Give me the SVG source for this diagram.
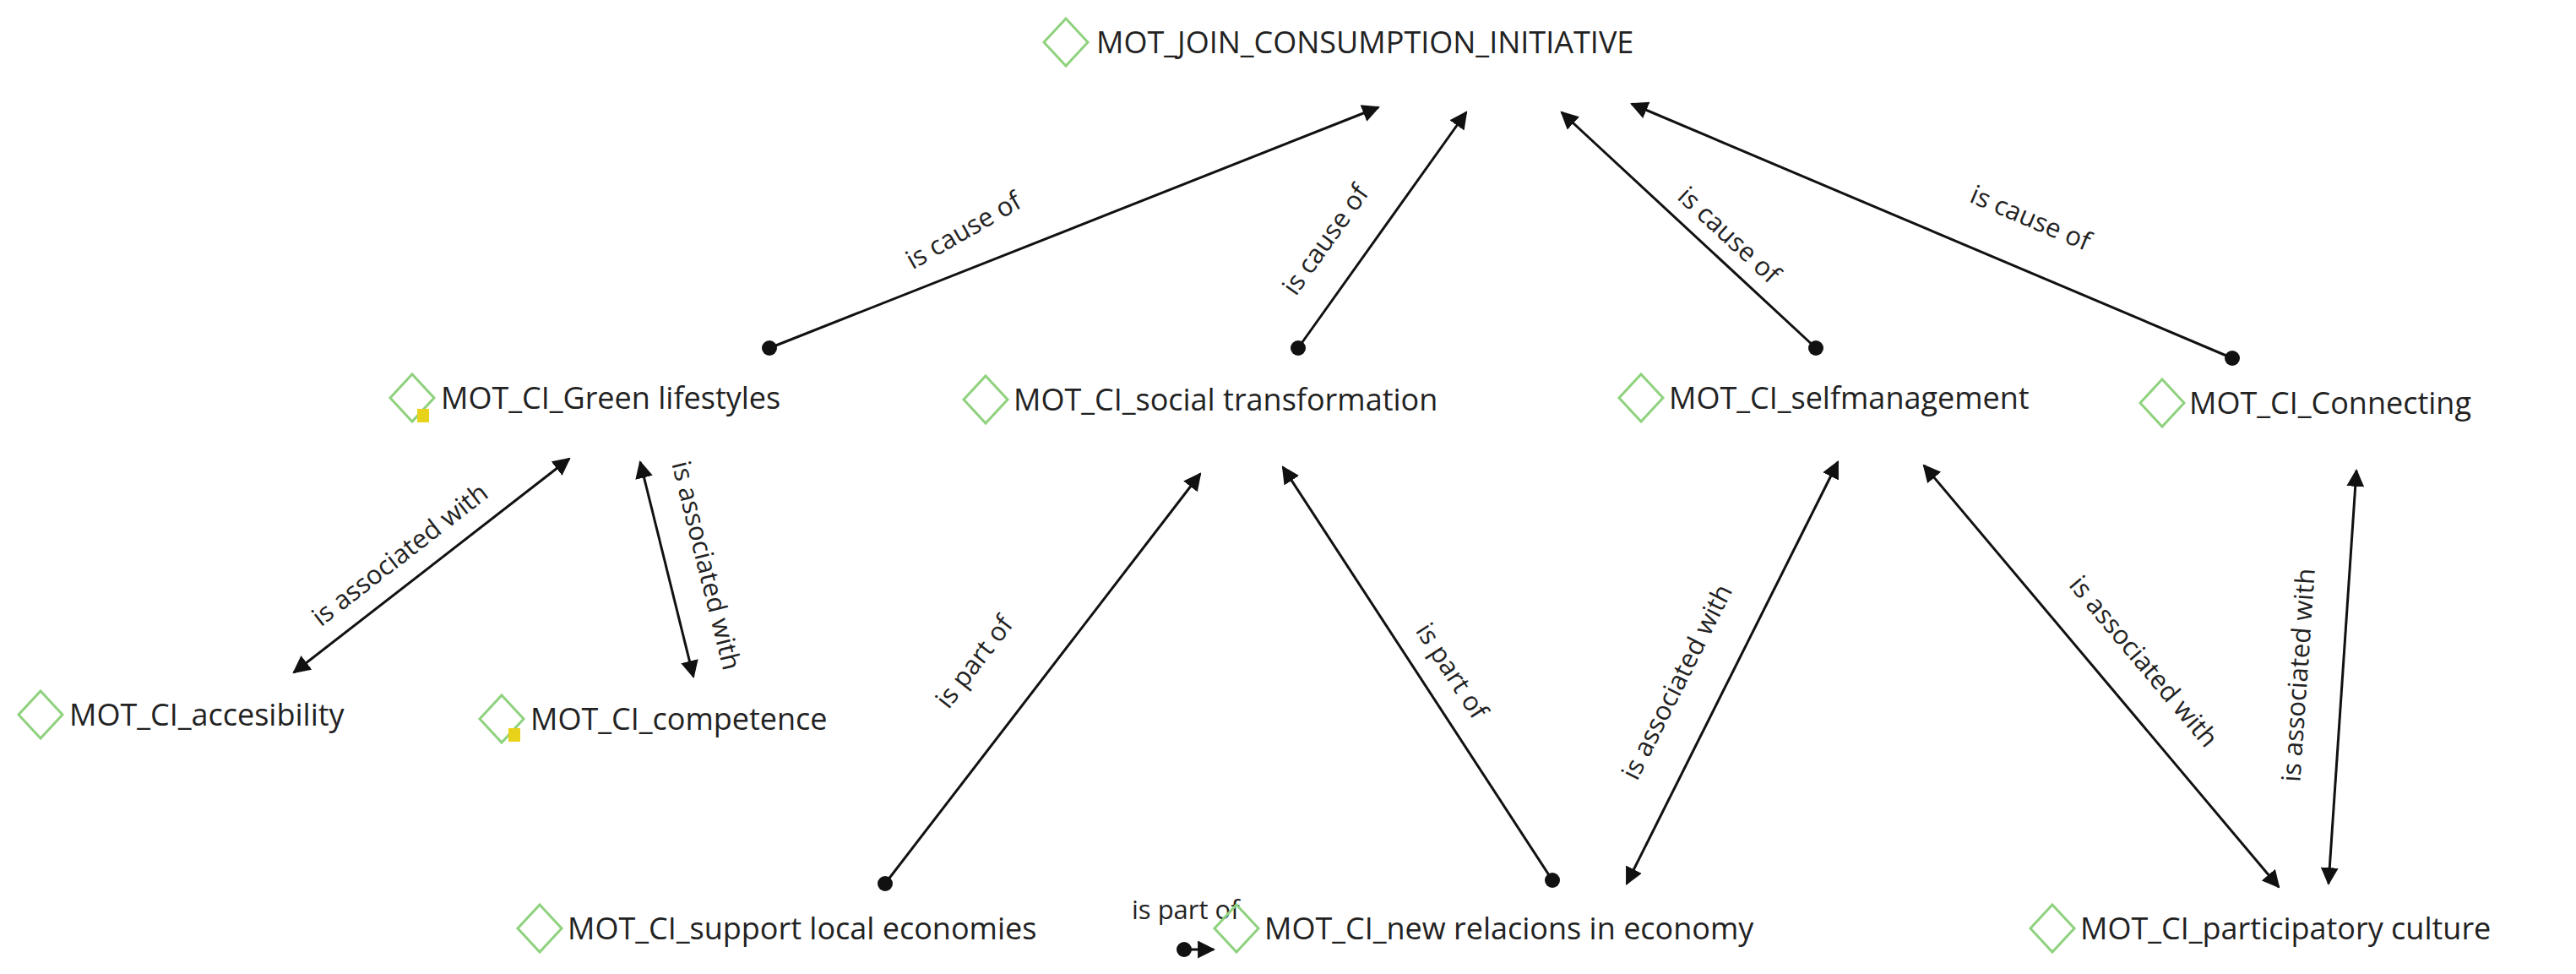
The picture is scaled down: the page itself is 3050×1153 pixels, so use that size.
<svg xmlns="http://www.w3.org/2000/svg" width="3050" height="1153" viewBox="0 0 3050 1153">
<style>
.n{font-family:"Open Sans","Noto Sans",sans-serif;font-size:36px;fill:#222}
.l{font-family:"Open Sans","Noto Sans",sans-serif;font-size:31px;fill:#222}
.d{fill:none;stroke:#8fd27e;stroke-width:3}
.e{stroke:#111;stroke-width:3;fill:none}
.ic{fill:#e8d21a}
</style>
<defs>
<marker id="a" viewBox="0 0 10 10" refX="9" refY="5" markerWidth="7" markerHeight="7" orient="auto-start-reverse" markerUnits="strokeWidth"><path d="M0,0 L10,5 L0,10 z" fill="#111"/></marker>
<marker id="o" viewBox="0 0 10 10" refX="5" refY="5" markerWidth="6" markerHeight="6" markerUnits="strokeWidth"><circle cx="5" cy="5" r="5" fill="#111"/></marker>
</defs>
<rect width="3050" height="1153" fill="#fff"/>
<g id="edges">
<line class="e" x1="911" y1="412" x2="1632" y2="127" marker-start="url(#o)" marker-end="url(#a)"/>
<line class="e" x1="1537" y1="412" x2="1736" y2="133" marker-start="url(#o)" marker-end="url(#a)"/>
<line class="e" x1="2150" y1="412" x2="1849" y2="133" marker-start="url(#o)" marker-end="url(#a)"/>
<line class="e" x1="2643" y1="424" x2="1932" y2="123" marker-start="url(#o)" marker-end="url(#a)"/>
<line class="e" x1="348" y1="796" x2="674" y2="543" marker-start="url(#a)" marker-end="url(#a)"/>
<line class="e" x1="821" y1="801" x2="758" y2="547" marker-start="url(#a)" marker-end="url(#a)"/>
<line class="e" x1="1048" y1="1046" x2="1421" y2="561" marker-start="url(#o)" marker-end="url(#a)"/>
<line class="e" x1="1838" y1="1042" x2="1519" y2="553" marker-start="url(#o)" marker-end="url(#a)"/>
<line class="e" x1="1926" y1="1046" x2="2176" y2="547" marker-start="url(#a)" marker-end="url(#a)"/>
<line class="e" x1="2278" y1="551" x2="2698" y2="1050" marker-start="url(#a)" marker-end="url(#a)"/>
<line class="e" x1="2757" y1="1046" x2="2790" y2="557" marker-start="url(#a)" marker-end="url(#a)"/>
<line class="e" x1="1402" y1="1124" x2="1437" y2="1124" marker-start="url(#o)" marker-end="url(#a)"/>
<text class="l" text-anchor="middle" transform="translate(1146,282) rotate(-29.8)">is cause of</text>
<text class="l" text-anchor="middle" transform="translate(1578,290) rotate(-54.5)">is cause of</text>
<text class="l" text-anchor="middle" transform="translate(2040,286) rotate(42.8)">is cause of</text>
<text class="l" text-anchor="middle" transform="translate(2400,268) rotate(22.9)">is cause of</text>
<text class="l" text-anchor="middle" transform="translate(480,665) rotate(-37.8)">is associated with</text>
<text class="l" text-anchor="middle" transform="translate(826,672) rotate(76)">is associated with</text>
<text class="l" text-anchor="middle" transform="translate(1162,790) rotate(-52.4)">is part of</text>
<text class="l" text-anchor="middle" transform="translate(1710,800) rotate(56.9)">is part of</text>
<text class="l" text-anchor="middle" transform="translate(1995,812) rotate(-63.4)">is associated with</text>
<text class="l" text-anchor="middle" transform="translate(2530,790) rotate(49.9)">is associated with</text>
<text class="l" text-anchor="middle" transform="translate(2732,800) rotate(-86)">is associated with</text>
<text class="l" x="1340" y="1088">is part of</text>
</g>
<g id="n1"><path class="d" d="M1262,22 L1288,50 L1262,78 L1236,50 z"/><text class="n" x="1298" y="63">MOT_JOIN_CONSUMPTION_INITIATIVE</text></g>
<g id="n2"><path class="d" d="M488,443 L514,471 L488,499 L462,471 z"/><rect class="ic" x="494" y="484" width="14" height="16"/><text class="n" x="522" y="484">MOT_CI_Green lifestyles</text></g>
<g id="n3"><path class="d" d="M1167,445 L1193,473 L1167,501 L1141,473 z"/><text class="n" x="1200" y="486">MOT_CI_social transformation</text></g>
<g id="n4"><path class="d" d="M1943,443 L1969,471 L1943,499 L1917,471 z"/><text class="n" x="1976" y="484">MOT_CI_selfmanagement</text></g>
<g id="n5"><path class="d" d="M2560,449 L2586,477 L2560,505 L2534,477 z"/><text class="n" x="2592" y="490">MOT_CI_Connecting</text></g>
<g id="n6"><path class="d" d="M48,818 L74,846 L48,874 L22,846 z"/><text class="n" x="82" y="859">MOT_CI_accesibility</text></g>
<g id="n7"><path class="d" d="M594,823 L620,851 L594,879 L568,851 z"/><rect class="ic" x="602" y="862" width="14" height="16"/><text class="n" x="628" y="864">MOT_CI_competence</text></g>
<g id="n8"><path class="d" d="M639,1071 L665,1099 L639,1127 L613,1099 z"/><text class="n" x="672" y="1112">MOT_CI_support local economies</text></g>
<g id="n9"><path class="d" d="M1464,1071 L1490,1099 L1464,1127 L1438,1099 z"/><text class="n" x="1497" y="1112">MOT_CI_new relacions in economy</text></g>
<g id="n10"><path class="d" d="M2430,1071 L2456,1099 L2430,1127 L2404,1099 z"/><text class="n" x="2463" y="1112">MOT_CI_participatory culture</text></g>
</svg>
